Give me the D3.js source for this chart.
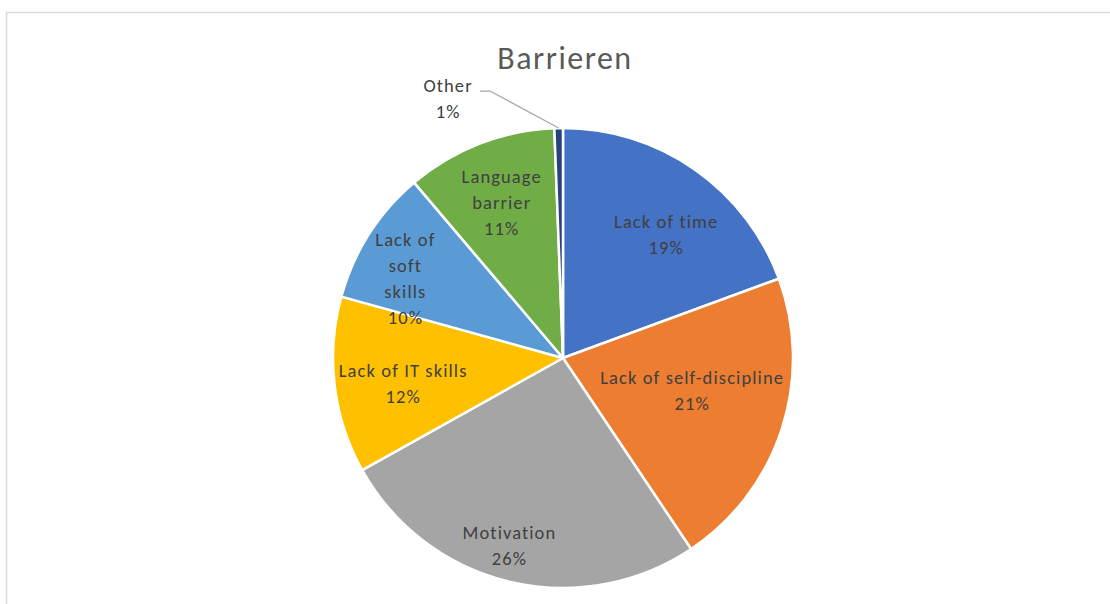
<!DOCTYPE html>
<html>
<head>
<meta charset="utf-8">
<script src="https://cdn.jsdelivr.net/npm/d3@7"></script>
<style>
  body { margin: 0; background: #fff; }
  svg { display: block; }
</style>
</head>
<body>
<div id="chart"></div>
<script>
// 資料
const categories = ['Lack of time', 'Lack of self-discipline', 'Motivation', 'Lack of IT skills', 'Lack of soft skills', 'Language barrier', 'Other']
const values = [19.4, 21.2, 26.3, 12.4, 9.5, 10.6, 0.6]
const colors = ['#4472C4', '#ED7D31', '#A5A5A5', '#FFC000', '#5B9BD5', '#70AD47', '#264478']
const title = 'Barrieren'

// 版面設定
const width = 1110
const height = 604
const cx = 563
const cy = 358
const radius = 230
const fontFamily = 'Calibri, Carlito, Lato, sans-serif'
const lineHeight = 26

// 標籤換行與微調位置 (dx, dy 為相對於 0.7R 中心點的偏移)
const labelLayout = {
  'Lack of time': { lines: ['Lack of time'], nudge: [11, 8] },
  'Lack of self-discipline': { lines: ['Lack of self-discipline'], nudge: [-24, -17] },
  Motivation: { lines: ['Motivation'], nudge: [-16, 31] },
  'Lack of IT skills': { lines: ['Lack of IT skills'], nudge: [0, 6] },
  'Lack of soft skills': { lines: ['Lack of', 'soft', 'skills'], nudge: [-22, 7] },
  'Language barrier': { lines: ['Language', 'barrier'], nudge: [-3, -5] },
  Other: { lines: ['Other'], outside: true, nudge: [-110.6, -29.5] },
}

const data = categories.map((c, i) => ({ name: c, value: values[i], color: colors[i] }))

const svg = d3
  .select('#chart')
  .append('svg')
  .attr('width', width)
  .attr('height', height)

// 外框
svg
  .append('rect')
  .attr('x', 6.5)
  .attr('y', 12.5)
  .attr('width', 1200)
  .attr('height', 700)
  .attr('fill', 'none')
  .attr('stroke', '#d9d9d9')
  .attr('stroke-width', 1.5)

// 標題
svg
  .append('text')
  .attr('x', 565)
  .attr('y', 69)
  .attr('text-anchor', 'middle')
  .style('font-family', fontFamily)
  .style('font-size', '32px')
  .style('letter-spacing', '1.5px')
  .style('fill', '#595959')
  .text(title)

const total = d3.sum(values)
const pie = d3.pie().sort(null).value(d => d.value)
const arcs = pie(data)

const arc = d3.arc().innerRadius(0).outerRadius(radius)
const labelArc = d3.arc().innerRadius(radius * 0.7).outerRadius(radius * 0.7)
const edgeArc = d3.arc().innerRadius(radius).outerRadius(radius)

const g = svg.append('g').attr('transform', `translate(${cx},${cy})`)

g.selectAll('path')
  .data(arcs)
  .join('path')
  .attr('d', arc)
  .attr('fill', d => d.data.color)
  .attr('stroke', '#fff')
  .attr('stroke-width', 2.5)
  .attr('stroke-linejoin', 'round')

// 標籤
const labelGroup = g.append('g')

arcs.forEach(d => {
  const layout = labelLayout[d.data.name]
  const lines = [...layout.lines, `${Math.round((d.value / total) * 100)}%`]
  const base = layout.outside ? edgeArc.centroid(d) : labelArc.centroid(d)
  const x = base[0] + layout.nudge[0]
  const y = base[1] + layout.nudge[1]
  const firstBaseline = y - ((lines.length - 1) * lineHeight) / 2 + 6.5

  if (layout.outside) {
    const edge = edgeArc.centroid(d)
    labelGroup
      .append('polyline')
      .attr('points', [[x + 32, firstBaseline - 1], [x + 42, firstBaseline - 1], edge].map(p => p.join(',')).join(' '))
      .attr('fill', 'none')
      .attr('stroke', '#A6A6A6')
      .attr('stroke-width', 1.3)
  }

  labelGroup
    .append('text')
    .attr('text-anchor', 'middle')
    .style('font-family', fontFamily)
    .style('font-size', '18.5px')
    .style('letter-spacing', '1.1px')
    .style('fill', '#404040')
    .selectAll('tspan')
    .data(lines)
    .join('tspan')
    .attr('x', x)
    .attr('y', (t, i) => firstBaseline + i * lineHeight)
    .text(t => t)
})
</script>
</body>
</html>
